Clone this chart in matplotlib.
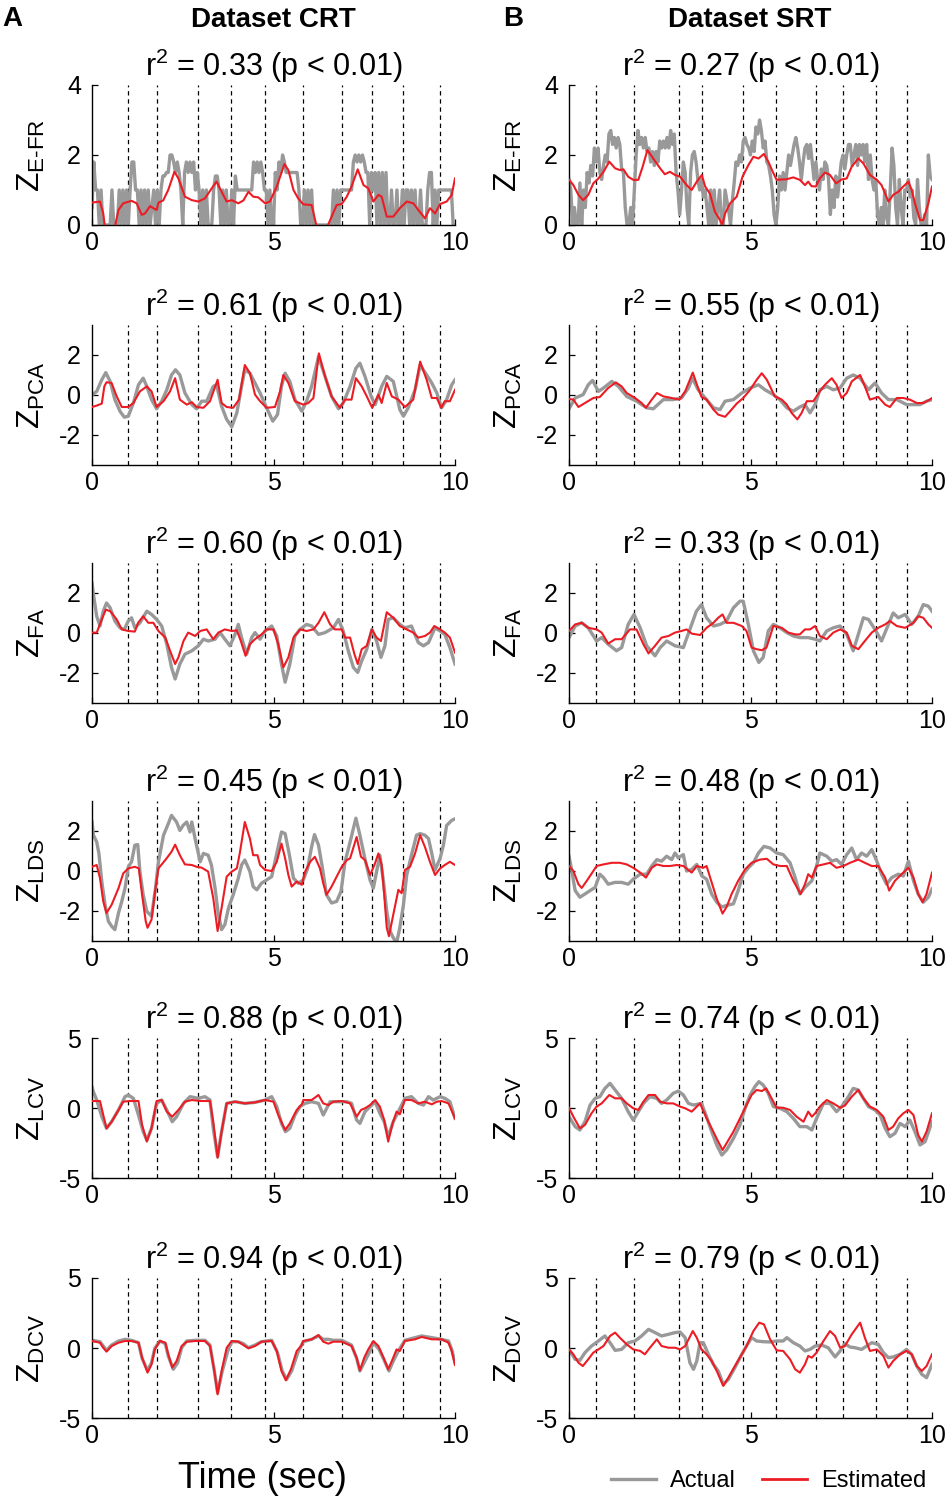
import numpy as np
import matplotlib
matplotlib.use("Agg")
import matplotlib.pyplot as plt
from matplotlib.lines import Line2D

plt.rcParams["font.family"] = ["Liberation Sans", "DejaVu Sans"]
plt.rcParams["mathtext.fontset"] = "custom"
plt.rcParams["mathtext.rm"] = "Liberation Sans"
plt.rcParams["axes.unicode_minus"] = False

# ==============================
# DATA
# ==============================
CRT_EVENTS = [0.98, 1.78, 2.93, 3.82, 4.77, 5.82, 6.88, 7.72, 8.58, 9.59]
SRT_EVENTS = [0.74, 1.79, 3.04, 3.66, 4.79, 5.70, 6.80, 7.56, 8.45, 9.30]

ROW_NAMES = ["E-FR", "PCA", "FA", "LDS", "LCV", "DCV"]
CRT_R2 = ["0.33", "0.61", "0.60", "0.45", "0.88", "0.94"]
SRT_R2 = ["0.27", "0.55", "0.33", "0.48", "0.74", "0.79"]

# firing-rate panels: actual sampled every 0.05 s
EFR_DT = 0.05
CRT_EFR_ACT = [
    0.5, 1.8, 1.0, 1.0, 0, 1.0, 0, 0, 0, 0, 0, 1.0, 0, 0, 0, 1.0, 0, 1.0, 0, 1.0,
    0, 1.0, 1.8, 1.8, 1.0, 1.0, 0, 1.0, 0, 1.0, 0, 1.0, 0, 0.5, 1.0, 0, 1.0, 0, 1.0, 1.4,
    1.4, 1.5, 1.5, 2.0, 2.0, 1.8, 1.5, 1.8, 1.5, 1.0, 0, 1.5, 1.8, 1.5, 1.8, 1.5, 1.8, 1.0, 1.5, 1.0,
    0, 1.0, 0, 1.0, 0, 0, 0, 1.0, 1.4, 1.4, 1.0, 0, 1.0, 0, 1.0, 0, 0, 1.0, 0, 1.4,
    1.0, 1.0, 1.0, 1.0, 1.0, 1.0, 1.0, 1.0, 1.0, 1.8, 1.5, 1.8, 1.5, 1.8, 1.5, 1.0, 1.0, 0, 1.0, 0,
    0, 1.5, 1.0, 1.8, 1.5, 2.0, 1.8, 1.5, 1.5, 1.5, 1.5, 1.5, 1.5, 1.5, 1.0, 0, 0, 1.0, 0, 1.0,
    0, 1.0, 0, 0, 0, 0, 0, 0, 0, 0, 0, 0, 0, 1.0, 0, 1.0, 0, 1.0, 1.0, 1.0,
    1.0, 1.0, 1.0, 1.0, 1.8, 2.0, 1.8, 2.0, 1.8, 2.0, 1.8, 1.5, 1.5, 0, 1.5, 1.0, 1.5, 0, 1.5, 0,
    1.5, 0, 1.5, 0, 0, 1.0, 0, 0, 1.0, 0, 0, 1.0, 0, 1.0, 1.0, 0, 1.0, 0, 1.0, 0,
    0, 1.0, 0, 0, 0, 1.0, 1.5, 1.5, 0, 1.0, 0, 1.0, 1.0, 1.0, 1.0, 1.0, 1.0, 1.0, 1.0, 0,
    0,
]
SRT_EFR_ACT = [
    1.3, 1.0, 0.0, 0.5, 0, 0, 1.2, 0, 1.0, 0.5, 1.5, 1.2, 1.7, 1.4, 2.2, 1.8, 2.2, 1.5, 1.3, 1.7,
    2.0, 1.8, 2.6, 2.7, 2.3, 2.5, 2.2, 2.5, 2.3, 1.6, 1.5, 0.5, 0, 0, 0.5, 0, 1.0, 2.0, 2.7, 2.3,
    2.5, 2.2, 2.5, 2.1, 2.2, 1.8, 2.1, 1.7, 2.1, 1.8, 2.4, 2.2, 2.4, 2.2, 2.5, 2.2, 2.7, 2.3, 2.6, 1.5,
    1.0, 0.3, 1.0, 1.8, 1.5, 0.5, 0, 1.5, 2.0, 2.1, 1.8, 1.3, 1.0, 1.3, 0.8, 1.0, 0.5, 0, 1.0, 0,
    1.0, 0, 0.5, 1.0, 0, 0, 1.0, 0.7, 0.4, 0, 0.7, 1.2, 1.8, 1.7, 2.0, 1.8, 2.4, 2.5, 2.3, 2.2,
    2.0, 2.4, 2.1, 2.8, 2.6, 3.0, 2.7, 2.2, 2.4, 1.8, 1.7, 1.4, 1.0, 0.3, 0, 0.5, 1.4, 1.0, 1.5, 1.0,
    1.5, 2.0, 1.7, 2.0, 2.3, 2.5, 2.2, 1.8, 1.3, 1.8, 2.2, 2.3, 1.9, 2.3, 1.8, 1.3, 1.8, 1.3, 1.0, 1.6,
    1.3, 1.8, 1.7, 1.3, 0.3, 1.0, 0.5, 1.4, 0.8, 1.3, 1.8, 2.0, 1.6, 2.0, 2.3, 2.3, 1.7, 2.0, 2.3, 1.7,
    2.3, 2.0, 2.3, 1.8, 2.3, 1.3, 2.0, 1.3, 1.0, 1.3, 0.3, 0, 0.5, 0, 1.0, 0.2, 0, 1.0, 2.2, 1.7,
    0.5, 0, 1.3, 0.5, 0, 1.0, 1.0, 1.3, 0.8, 1.0, 0.2, 0, 1.3, 0.5, 0, 0, 0.3, 0, 2.0, 1.4,
    1.3,
]

# (time s, value) pairs
CRT_EFR_EST = [(0, 0.64), (0.22, 0.67), (0.31, 0.33), (0.36, -0.1), (0.63, -0.05), (0.73, 0.43), (0.86, 0.62),
               (1.09, 0.69), (1.23, 0.62), (1.37, 0.29), (1.46, 0.33), (1.6, 0.54), (1.69, 0.48), (1.78, 0.43),
               (1.83, 0.64), (1.96, 0.70), (2.1, 1.0), (2.27, 1.52), (2.38, 1.33), (2.56, 0.81), (2.75, 0.71),
               (2.93, 0.67), (3.11, 0.76), (3.3, 1.05), (3.43, 1.24), (3.57, 0.95), (3.71, 0.67), (3.85, 0.71),
               (4.03, 0.62), (4.17, 0.70), (4.31, 0.95), (4.44, 0.81), (4.58, 0.79), (4.77, 0.62), (4.9, 0.67),
               (5.09, 1.1), (5.3, 1.74), (5.41, 1.57), (5.55, 1.0), (5.68, 0.76), (5.82, 0.59), (6.05, 0.57),
               (6.19, -0.05), (6.42, -0.2), (6.56, 0.14), (6.74, 0.57), (6.88, 0.6), (7.02, 0.81), (7.15, 1.1),
               (7.32, 1.59), (7.48, 1.14), (7.61, 1.05), (7.75, 0.67), (7.89, 0.86), (7.98, 0.81), (8.12, 0.24),
               (8.3, 0.24), (8.48, 0.48), (8.67, 0.67), (8.85, 0.62), (8.99, 0.43), (9.17, 0.19), (9.31, 0.48),
               (9.45, 0.33), (9.59, 0.6), (9.77, 0.67), (9.91, 0.86), (10, 1.33)]
SRT_EFR_EST = [(0, 1.3), (0.12, 1.14), (0.26, 0.86), (0.39, 0.71), (0.53, 0.86), (0.67, 1.19), (0.81, 1.33),
               (0.95, 1.52), (1.11, 1.81), (1.27, 1.62), (1.4, 1.57), (1.5, 1.59), (1.63, 1.38), (1.77, 1.29),
               (1.91, 1.29), (2.03, 1.67), (2.16, 2.14), (2.32, 1.9), (2.51, 1.62), (2.64, 1.45), (2.78, 1.52),
               (2.92, 1.43), (3.06, 1.38), (3.24, 1.14), (3.38, 1.0), (3.52, 1.24), (3.66, 1.43), (3.75, 1.1),
               (3.88, 0.9), (4.02, 0.38), (4.16, 0.14), (4.22, 0.0), (4.3, 0.33), (4.44, 0.62), (4.62, 0.81),
               (4.78, 1.38), (4.94, 1.71), (5.08, 1.95), (5.22, 1.9), (5.37, 2.03), (5.49, 1.81), (5.63, 1.48),
               (5.72, 1.29), (6.0, 1.31), (6.18, 1.36), (6.36, 1.29), (6.5, 1.14), (6.59, 1.24), (6.68, 1.11),
               (6.8, 1.1), (6.91, 1.33), (7.05, 1.5), (7.19, 1.43), (7.36, 1.19), (7.51, 1.3), (7.65, 1.33),
               (7.79, 1.67), (7.97, 1.9), (8.11, 1.76), (8.29, 1.43), (8.48, 1.29), (8.61, 1.14), (8.8, 0.67),
               (8.93, 0.86), (9.07, 0.95), (9.21, 1.1), (9.35, 1.24), (9.44, 1.0), (9.53, 0.62), (9.67, 0.14),
               (9.76, 0.14), (9.9, 0.62), (10, 1.1)]

CRT_PCA_ACT = [(0, 0.0), (0.13, 0.18), (0.27, 0.76), (0.38, 1.12), (0.5, 0.68), (0.63, -0.23), (0.77, -0.81),
               (0.89, -1.11), (1.0, -1.06), (1.14, -0.4), (1.28, 0.51), (1.41, 0.84), (1.51, 0.43), (1.64, -0.23),
               (1.78, -0.69), (1.92, -0.31), (2.06, 0.26), (2.19, 1.0), (2.3, 1.26), (2.42, 1.0), (2.56, 0.1),
               (2.75, -0.48), (2.88, -0.69), (3.02, -0.31), (3.16, -0.31), (3.34, 0.43), (3.43, 0.51), (3.57, -0.56),
               (3.71, -1.22), (3.85, -1.59), (3.99, -0.89), (4.12, 0.43), (4.21, 1.26), (4.35, 1.09), (4.49, 0.6),
               (4.63, 0.1), (4.81, -0.64), (4.98, -1.31), (5.11, -0.98), (5.22, 0.43), (5.32, 1.09), (5.45, 0.68),
               (5.59, -0.23), (5.78, -0.81), (5.91, -0.31), (6.05, 0.43), (6.24, 1.92), (6.42, 0.93), (6.6, -0.07),
               (6.79, -0.69), (6.92, -0.4), (7.11, 0.43), (7.27, 1.34), (7.38, 1.59), (7.52, 0.93), (7.69, -0.07),
               (7.8, -0.48), (7.98, 0.43), (8.12, 0.93), (8.3, 0.68), (8.48, -0.73), (8.58, -1.06), (8.71, -0.64),
               (8.9, 0.26), (9.04, 1.5), (9.22, 1.0), (9.36, 0.6), (9.5, 0.1), (9.63, -0.64), (9.77, -0.23),
               (9.91, 0.51), (10, 0.76)]
CRT_PCA_EST = [(0, -0.6), (0.13, -0.53), (0.27, -0.43), (0.34, 0.43), (0.4, 0.64), (0.54, 0.6), (0.68, -0.07),
               (0.82, -0.6), (1.0, -0.6), (1.14, -0.4), (1.32, 0.18), (1.51, 0.43), (1.64, 0.18), (1.78, -0.6),
               (1.97, -0.31), (2.15, 0.18), (2.29, 0.84), (2.42, -0.23), (2.61, -0.48), (2.75, -0.36), (2.88, -0.6),
               (3.07, -0.64), (3.25, -0.31), (3.46, 0.76), (3.57, -0.4), (3.71, -0.6), (3.89, -0.64), (4.05, -0.23),
               (4.21, 1.5), (4.35, 1.09), (4.49, 0.02), (4.63, -0.31), (4.81, -0.64), (5.04, -0.6), (5.18, 0.18),
               (5.27, 1.0), (5.41, 0.6), (5.59, -0.31), (5.82, -0.48), (5.96, -0.4), (6.1, -0.15), (6.25, 2.08),
               (6.42, 0.93), (6.6, -0.07), (6.83, -0.64), (6.97, -0.23), (7.15, -0.23), (7.27, 0.84), (7.43, 0.43),
               (7.57, -0.07), (7.72, -0.64), (7.89, 0.02), (7.98, -0.4), (8.12, 0.6), (8.26, -0.07), (8.44, -0.23),
               (8.62, -0.6), (8.85, -0.23), (9.04, 1.67), (9.22, 0.76), (9.36, -0.15), (9.5, -0.15), (9.62, -0.64),
               (9.72, -0.31), (9.86, -0.31), (10, 0.26)]
SRT_PCA_ACT = [(0, -0.69), (0.17, -0.15), (0.39, 0.02), (0.53, 0.51), (0.65, 0.73), (0.81, 0.18), (0.95, 0.35),
               (1.18, 0.68), (1.36, 0.43), (1.59, -0.07), (1.86, -0.31), (2.14, -0.64), (2.32, -0.69), (2.6, -0.23),
               (2.87, -0.23), (3.1, -0.15), (3.29, 0.35), (3.4, 0.84), (3.56, 0.26), (3.79, -0.23), (3.98, -0.64),
               (4.16, -0.73), (4.3, -0.31), (4.53, -0.23), (4.76, 0.1), (4.99, 0.35), (5.22, 0.51), (5.4, 0.26),
               (5.63, 0.02), (5.81, -0.23), (6.0, -0.64), (6.18, -0.81), (6.36, -0.6), (6.5, -0.48), (6.64, -0.89),
               (6.78, -0.48), (6.91, 0.26), (7.1, 0.43), (7.28, 0.26), (7.47, 0.35), (7.65, 0.84), (7.83, 1.0),
               (8.02, 0.84), (8.25, 0.26), (8.43, 0.6), (8.61, 0.1), (8.8, -0.23), (9.03, -0.23), (9.3, -0.48),
               (9.49, -0.48), (9.67, -0.48), (9.85, -0.31), (10, -0.23)]
SRT_PCA_EST = [(0, -0.2), (0.12, -0.23), (0.26, -0.6), (0.44, -0.4), (0.67, -0.15), (0.85, -0.1), (1.08, 0.35),
               (1.29, 0.63), (1.45, 0.43), (1.59, 0.1), (1.82, -0.15), (2.0, -0.4), (2.12, -0.64), (2.28, -0.23),
               (2.42, 0.1), (2.6, -0.07), (2.83, -0.15), (3.04, -0.23), (3.2, 0.18), (3.41, 1.12), (3.54, 0.43),
               (3.65, -0.1), (3.79, -0.23), (3.98, -0.73), (4.11, -0.98), (4.3, -1.09), (4.44, -0.81), (4.62, -0.43),
               (4.8, -0.15), (4.99, 0.26), (5.17, 0.76), (5.31, 1.09), (5.45, 0.76), (5.67, -0.07), (5.86, -0.23),
               (6.0, -0.48), (6.13, -0.89), (6.29, -1.22), (6.41, -0.89), (6.55, -0.31), (6.73, -0.31), (6.91, 0.18),
               (7.05, 0.51), (7.24, 0.84), (7.37, 0.51), (7.51, -0.15), (7.65, 0.1), (7.79, 0.68), (8.02, 1.0),
               (8.15, 0.43), (8.29, -0.23), (8.52, -0.1), (8.71, -0.48), (8.84, -0.6), (9.03, -0.15), (9.21, -0.15),
               (9.39, -0.23), (9.58, -0.4), (9.76, -0.4), (9.94, -0.23), (10, -0.15)]

CRT_FA_ACT = [(0, 2.5), (0.04, 1.92), (0.13, 0.84), (0.22, 0.35), (0.31, 1.09), (0.4, 1.5), (0.5, 1.26), (0.63, 0.6),
              (0.77, 0.26), (0.89, 0.18), (1.0, 0.6), (1.09, 0.76), (1.18, 0.26), (1.32, 0.51), (1.51, 1.09),
              (1.64, 0.93), (1.78, 0.68), (1.92, 0.35), (2.06, -0.56), (2.19, -1.72), (2.29, -2.3), (2.42, -1.55),
              (2.56, -1.06), (2.75, -0.89), (2.93, -0.64), (3.07, -0.31), (3.2, -0.4), (3.39, -0.31), (3.53, 0.02),
              (3.66, -0.31), (3.8, -0.64), (3.94, -0.07), (4.03, 0.43), (4.12, -0.23), (4.26, -1.06), (4.4, -0.23),
              (4.49, 0.02), (4.63, -0.31), (4.77, 0.1), (4.95, 0.35), (5.09, -0.15), (5.22, -1.55), (5.32, -2.46),
              (5.45, -1.55), (5.59, -0.15), (5.73, 0.18), (5.91, 0.43), (6.05, 0.35), (6.24, -0.07), (6.42, 0.02),
              (6.65, 0.26), (6.79, 0.68), (6.92, 0.1), (7.06, -0.89), (7.2, -1.72), (7.32, -1.97), (7.43, -1.39),
              (7.57, -0.81), (7.71, 0.18), (7.84, -0.4), (7.96, -1.22), (8.07, -0.64), (8.16, 0.68), (8.3, 0.76),
              (8.48, 0.43), (8.62, 0.26), (8.8, 0.35), (8.99, -0.48), (9.13, -0.64), (9.27, -0.48), (9.45, 0.26),
              (9.59, 0.1), (9.72, -0.07), (9.86, -0.73), (10, -1.55)]
CRT_FA_EST = [(0, 0.02), (0.13, 0.02), (0.27, 0.68), (0.38, 1.17), (0.5, 1.09), (0.68, 0.68), (0.82, 0.18), (1.0, 0.1),
              (1.18, 0.07), (1.27, 0.51), (1.41, 0.84), (1.55, 0.51), (1.69, 0.51), (1.83, 0.1), (2.02, -0.23),
              (2.15, -0.89), (2.29, -1.55), (2.38, -1.22), (2.52, -0.4), (2.65, 0.02), (2.84, -0.15), (2.98, 0.1),
              (3.16, 0.18), (3.34, -0.31), (3.48, 0.02), (3.66, 0.18), (3.85, 0.1), (3.99, 0.13), (4.1, -0.4),
              (4.23, -1.14), (4.35, -0.56), (4.49, -0.31), (4.67, -0.07), (4.81, 0.18), (5.0, 0.18), (5.13, -0.56),
              (5.27, -1.72), (5.41, -1.22), (5.55, -0.23), (5.73, 0.18), (5.91, 0.1), (6.1, 0.18), (6.24, 0.51),
              (6.4, 1.04), (6.56, 0.43), (6.69, 0.18), (6.88, 0.18), (6.97, -0.23), (7.11, -0.23), (7.23, -1.06),
              (7.32, -1.55), (7.43, -0.81), (7.57, -0.64), (7.71, 0.18), (7.84, -0.23), (7.96, -0.4), (8.12, 1.04),
              (8.3, 0.76), (8.48, 0.35), (8.67, 0.18), (8.85, 0.02), (8.99, -0.23), (9.17, -0.15), (9.31, 0.02),
              (9.43, 0.35), (9.59, 0.18), (9.72, 0.02), (9.86, -0.23), (10, -0.98)]
SRT_FA_ACT = [(0, -0.23), (0.17, 0.35), (0.35, 0.51), (0.53, 0.26), (0.76, -0.4), (0.9, -0.23), (1.08, -0.56),
              (1.31, -0.89), (1.45, -0.73), (1.63, 0.43), (1.79, 0.93), (1.96, 0.26), (2.14, -0.64), (2.37, -1.14),
              (2.51, -0.73), (2.69, -0.4), (2.92, -0.64), (3.15, -0.73), (3.33, 0.18), (3.51, 1.09), (3.65, 1.42),
              (3.79, 0.76), (3.98, 0.35), (4.16, 0.43), (4.34, 0.6), (4.53, 1.26), (4.71, 1.59), (4.8, 1.59),
              (4.94, 0.43), (5.08, -0.89), (5.23, -1.47), (5.35, -1.22), (5.49, 0.1), (5.63, 0.43), (5.81, 0.26),
              (6.0, 0.02), (6.18, -0.15), (6.36, -0.23), (6.59, -0.23), (6.78, -0.31), (6.91, -0.4), (7.1, 0.1),
              (7.28, 0.26), (7.47, 0.35), (7.65, -0.07), (7.83, -0.89), (7.97, -0.07), (8.11, 0.76), (8.25, 0.68),
              (8.43, 0.18), (8.61, -0.4), (8.8, 0.43), (8.93, 1.0), (9.07, 0.76), (9.26, 0.93), (9.44, 0.43),
              (9.62, 0.84), (9.76, 1.42), (9.9, 1.34), (10, 1.09)]
SRT_FA_EST = [(0, 0.1), (0.17, 0.43), (0.35, 0.51), (0.53, 0.26), (0.76, 0.18), (0.9, 0.02), (1.08, -0.53),
              (1.27, -0.31), (1.45, -0.31), (1.68, 0.18), (1.86, 0.18), (2.05, -0.56), (2.19, -1.02), (2.37, -0.64),
              (2.55, -0.23), (2.74, -0.15), (2.92, 0.02), (3.1, 0.1), (3.24, 0.18), (3.38, -0.03), (3.61, -0.1),
              (3.79, 0.26), (3.98, 0.51), (4.11, 0.76), (4.23, 0.93), (4.34, 0.51), (4.53, 0.51), (4.76, 0.35),
              (4.89, 0.1), (5.03, -0.73), (5.17, -0.81), (5.31, -0.86), (5.44, -0.73), (5.63, 0.35), (5.86, 0.26),
              (6.04, 0.02), (6.23, -0.07), (6.36, -0.07), (6.5, 0.18), (6.64, 0.18), (6.78, 0.35), (6.91, -0.15),
              (7.1, -0.31), (7.28, 0.02), (7.47, 0.18), (7.65, 0.02), (7.79, -0.64), (7.97, -0.81), (8.15, -0.4),
              (8.34, 0.02), (8.52, 0.26), (8.71, 0.43), (8.84, 0.6), (9.03, 0.35), (9.26, 0.26), (9.49, 0.51),
              (9.62, 0.84), (9.76, 0.76), (9.9, 0.43), (10, 0.26)]

CRT_LDS_ACT = [(0, 2.45), (0.04, 1.79), (0.13, 1.45), (0.19, 0.88), (0.27, -0.53), (0.36, -1.69), (0.45, -2.51),
               (0.54, -2.76), (0.63, -2.93), (0.73, -2.1), (0.82, -1.52), (0.91, -0.86), (1.0, 0.21), (1.09, 0.46),
               (1.18, 1.29), (1.26, 1.32), (1.32, -0.03), (1.41, -1.19), (1.51, -2.02), (1.64, -2.26), (1.75, -0.86),
               (1.83, 0.46), (1.97, 1.79), (2.1, 2.36), (2.19, 2.78), (2.33, 2.45), (2.42, 2.03), (2.51, 2.28),
               (2.61, 2.45), (2.7, 1.95), (2.75, 2.45), (2.84, 1.62), (2.98, 0.46), (3.07, 0.88), (3.2, 0.79),
               (3.29, 0.3), (3.39, -0.86), (3.48, -2.18), (3.57, -2.93), (3.66, -2.68), (3.76, -1.85), (3.89, -1.19),
               (4.03, -0.36), (4.12, 0.3), (4.21, 0.55), (4.35, -0.03), (4.44, -0.78), (4.54, -0.94), (4.67, -0.61),
               (4.81, -0.45), (4.95, -0.28), (5.09, 0.88), (5.22, 1.95), (5.32, 1.87), (5.43, 0.88), (5.55, -0.36),
               (5.68, -0.61), (5.82, -0.45), (5.94, 0.13), (6.05, 1.21), (6.13, 1.82), (6.24, 1.29), (6.35, 0.13),
               (6.46, -1.19), (6.6, -1.6), (6.74, -1.52), (6.86, -1.02), (6.97, 0.46), (7.11, 1.45), (7.27, 2.64),
               (7.38, 1.79), (7.52, 0.6), (7.66, -0.45), (7.75, -0.86), (7.84, -0.03), (7.93, 0.79), (8.03, -0.53),
               (8.12, -2.02), (8.21, -3.0), (8.3, -3.34), (8.39, -3.6), (8.48, -2.84), (8.58, -1.69), (8.67, -0.2),
               (8.8, 0.79), (8.94, 1.79), (9.04, 1.87), (9.17, 1.79), (9.27, 1.62), (9.36, 0.88), (9.45, 0.05),
               (9.59, 0.63), (9.68, 1.29), (9.77, 2.28), (9.91, 2.53), (10, 2.61)]
CRT_LDS_EST = [(0, 0.21), (0.13, 0.3), (0.22, -0.36), (0.31, -1.52), (0.4, -2.1), (0.54, -1.69), (0.73, -0.86),
               (0.86, -0.12), (1.0, 0.13), (1.18, 0.21), (1.29, 0.13), (1.38, -1.19), (1.48, -2.51), (1.53, -2.84),
               (1.64, -2.43), (1.75, -0.86), (1.83, 0.13), (2.02, 0.55), (2.19, 0.96), (2.29, 1.32), (2.42, 0.79),
               (2.56, 0.33), (2.75, 0.3), (2.88, 0.21), (3.02, 0.17), (3.2, -0.03), (3.34, -1.36), (3.46, -3.0),
               (3.57, -1.85), (3.71, -0.28), (3.85, -0.03), (3.99, 0.13), (4.07, 0.88), (4.21, 2.45), (4.35, 1.62),
               (4.44, 0.79), (4.56, 0.79), (4.63, 0.3), (4.77, 0.05), (4.95, 0.0), (5.09, 0.46), (5.22, 1.37),
               (5.32, 0.63), (5.41, -0.2), (5.5, -0.78), (5.64, -0.53), (5.78, -0.69), (5.87, -0.03), (6.01, 0.46),
               (6.14, 0.71), (6.28, 0.13), (6.37, -0.61), (6.46, -1.19), (6.6, -0.78), (6.74, -0.28), (6.88, 0.21),
               (7.02, 0.55), (7.11, 0.63), (7.29, 1.7), (7.41, 0.71), (7.52, 0.55), (7.66, -0.2), (7.78, 0.3),
               (7.89, 0.88), (7.98, 0.3), (8.05, -1.19), (8.12, -2.84), (8.18, -3.26), (8.3, -2.18), (8.44, -0.94),
               (8.53, -1.11), (8.62, 0.05), (8.76, 0.21), (8.9, 0.88), (9.04, 1.79), (9.17, 1.21), (9.31, 0.46),
               (9.45, -0.2), (9.59, 0.13), (9.72, 0.3), (9.86, 0.46), (10, 0.3)]
SRT_LDS_ACT = [(0, 0.74), (0.07, 0.08), (0.17, -0.98), (0.3, -1.31), (0.44, -1.15), (0.58, -0.98), (0.72, -0.82),
               (0.85, -0.16), (0.95, -0.33), (1.08, -0.66), (1.27, -0.57), (1.45, -0.57), (1.63, -0.66), (1.77, -0.41),
               (1.96, -0.16), (2.14, -0.16), (2.28, 0.25), (2.42, 0.57), (2.55, 0.49), (2.69, 0.74), (2.83, 0.57),
               (2.92, 0.9), (3.01, 0.66), (3.15, 0.82), (3.24, 0.0), (3.38, 0.08), (3.52, 0.33), (3.66, -0.25),
               (3.79, -0.41), (3.93, -1.15), (4.07, -1.56), (4.21, -1.8), (4.34, -1.72), (4.53, -1.64), (4.66, -0.98),
               (4.8, -0.16), (4.94, 0.16), (5.08, 0.41), (5.22, 0.9), (5.37, 1.23), (5.54, 1.15), (5.72, 0.9),
               (5.9, 0.82), (6.09, 0.41), (6.23, -0.33), (6.36, -1.15), (6.5, -0.82), (6.69, -0.49), (6.82, 0.25),
               (6.91, 0.9), (7.1, 0.74), (7.24, 0.49), (7.37, 0.57), (7.51, 0.33), (7.65, 0.82), (7.79, 1.15),
               (7.92, 0.57), (8.06, 0.9), (8.2, 0.74), (8.34, 1.07), (8.48, 0.49), (8.61, -0.16), (8.75, -0.66),
               (8.89, -0.33), (9.07, -0.16), (9.21, -0.25), (9.35, 0.49), (9.49, -0.49), (9.62, -1.15), (9.76, -1.56),
               (9.9, -1.31), (10, -0.9)]
SRT_LDS_EST = [(0, 0.25), (0.12, 0.0), (0.26, -0.66), (0.35, -0.85), (0.49, -0.49), (0.67, 0.0), (0.76, 0.25),
               (0.95, 0.33), (1.18, 0.41), (1.4, 0.41), (1.59, 0.33), (1.77, 0.16), (1.96, -0.08), (2.12, -0.33),
               (2.28, 0.16), (2.42, 0.33), (2.6, 0.25), (2.78, 0.25), (2.97, 0.3), (3.15, 0.25), (3.38, -0.08),
               (3.52, 0.25), (3.7, 0.16), (3.79, 0.25), (3.93, -0.57), (4.07, -1.39), (4.23, -2.13), (4.34, -1.8),
               (4.48, -1.15), (4.66, -0.49), (4.85, 0.08), (5.03, 0.41), (5.26, 0.57), (5.45, 0.61), (5.63, 0.33),
               (5.81, 0.25), (6.0, 0.25), (6.18, -0.49), (6.38, -1.15), (6.5, -0.66), (6.59, -0.16), (6.69, -0.33),
               (6.82, 0.25), (7.01, 0.33), (7.19, 0.41), (7.37, 0.16), (7.56, 0.25), (7.74, 0.41), (7.97, 0.57),
               (8.15, 0.41), (8.34, 0.25), (8.52, 0.25), (8.71, -0.33), (8.82, -0.98), (8.98, -0.49), (9.16, -0.16),
               (9.35, 0.16), (9.49, -0.33), (9.62, -1.15), (9.74, -1.56), (9.85, -1.15), (10, -0.08)]

CRT_LCV_ACT = [(0, 1.5), (0.04, 1.14), (0.13, 0.57), (0.27, -0.62), (0.4, -1.45), (0.54, -0.98), (0.73, -0.14),
               (0.91, 0.81), (1.0, 0.93), (1.14, 0.69), (1.28, -0.5), (1.41, -1.69), (1.51, -2.29), (1.64, -1.45),
               (1.78, 0.33), (1.92, 0.57), (2.06, -0.14), (2.21, -0.98), (2.33, -0.62), (2.52, 0.33), (2.7, 0.81),
               (2.93, 0.69), (3.11, 0.81), (3.25, 0.57), (3.34, -1.45), (3.46, -3.48), (3.57, -1.69), (3.71, 0.33),
               (3.94, 0.45), (4.21, 0.33), (4.49, 0.4), (4.77, 0.57), (4.95, 0.81), (5.09, 0.1), (5.22, -1.1),
               (5.33, -1.69), (5.45, -1.45), (5.59, -0.5), (5.73, 0.1), (5.87, 0.33), (6.05, 0.45), (6.24, 0.33),
               (6.37, -0.5), (6.56, 0.45), (6.79, 0.45), (7.02, 0.45), (7.15, 0.33), (7.29, -0.86), (7.38, -1.1),
               (7.52, -0.26), (7.66, 0.1), (7.8, 0.45), (7.93, -0.38), (8.05, -0.98), (8.16, -2.05), (8.3, -0.98),
               (8.44, -0.26), (8.62, 0.69), (8.8, 0.81), (8.99, 0.33), (9.13, 0.21), (9.27, 0.81), (9.4, 0.57),
               (9.59, 0.81), (9.72, 0.69), (9.86, 0.45), (10, -0.74)]
CRT_LCV_EST = [(0, 0.5), (0.22, 0.5), (0.31, -0.5), (0.4, -1.45), (0.54, -0.98), (0.73, -0.14), (0.86, 0.45),
               (1.04, 0.5), (1.28, 0.5), (1.38, -1.21), (1.51, -2.4), (1.64, -1.45), (1.78, 0.5), (1.92, 0.57),
               (2.06, -0.26), (2.21, -0.62), (2.38, -0.14), (2.56, 0.45), (2.75, 0.57), (2.98, 0.5), (3.25, 0.5),
               (3.34, -0.98), (3.46, -3.55), (3.57, -1.69), (3.71, 0.33), (3.94, 0.45), (4.21, 0.33), (4.49, 0.4),
               (4.77, 0.57), (5.0, 0.45), (5.13, -0.5), (5.32, -1.57), (5.45, -1.1), (5.64, -0.14), (5.78, 0.26),
               (5.82, 0.57), (6.05, 0.57), (6.24, 0.93), (6.37, 0.33), (6.51, 0.21), (6.65, 0.45), (6.88, 0.5),
               (7.11, 0.33), (7.29, -0.62), (7.41, -0.14), (7.52, -0.02), (7.66, 0.21), (7.8, 0.57), (7.93, 0.1),
               (8.05, -0.86), (8.16, -2.4), (8.28, -1.1), (8.39, -0.26), (8.48, -0.45), (8.62, 0.57), (8.8, 0.57),
               (8.99, 0.33), (9.17, 0.45), (9.36, 0.26), (9.5, 0.45), (9.63, 0.5), (9.82, 0.33), (10, -0.74)]
SRT_LCV_ACT = [(0, -0.62), (0.17, -1.33), (0.3, -1.57), (0.44, -0.98), (0.58, 0.21), (0.72, 0.69), (0.85, 0.81),
               (0.99, 1.4), (1.13, 1.76), (1.27, 1.29), (1.45, 0.69), (1.63, -0.26), (1.77, -0.86), (1.91, -0.26),
               (2.05, 0.33), (2.23, 0.81), (2.42, 0.69), (2.55, 0.33), (2.69, 0.57), (2.87, 1.05), (3.01, 1.21),
               (3.15, 0.93), (3.29, 0.33), (3.43, 0.21), (3.65, 0.33), (3.79, -0.62), (3.93, -1.69), (4.07, -2.64),
               (4.21, -3.36), (4.34, -3.0), (4.53, -2.17), (4.71, -1.21), (4.85, -0.02), (4.99, 0.93), (5.12, 1.52),
               (5.23, 1.88), (5.35, 1.64), (5.49, 1.05), (5.63, 0.1), (5.81, -0.02), (6.0, -0.26), (6.18, -0.74),
               (6.36, -1.33), (6.55, -1.33), (6.69, -1.57), (6.82, -0.74), (7.01, 0.33), (7.19, 0.33), (7.37, -0.26),
               (7.51, 0.1), (7.7, 0.81), (7.83, 1.4), (7.97, 1.29), (8.11, 0.69), (8.25, 0.1), (8.43, -0.14),
               (8.57, -0.5), (8.71, -1.45), (8.84, -2.05), (8.98, -1.81), (9.12, -1.1), (9.26, -1.33), (9.39, -0.86),
               (9.53, -1.69), (9.67, -2.64), (9.81, -2.4), (10, -0.98)]
SRT_LCV_EST = [(0, 0.02), (0.12, -0.62), (0.3, -1.45), (0.44, -1.21), (0.62, -0.38), (0.76, 0.1), (0.9, 0.33),
               (1.11, 0.93), (1.27, 0.69), (1.45, 0.69), (1.59, 0.33), (1.77, -0.02), (1.91, -0.14), (2.05, 0.45),
               (2.19, 0.93), (2.37, 0.93), (2.51, 0.45), (2.69, 0.33), (2.87, 0.33), (3.06, 0.1), (3.2, -0.02),
               (3.38, -0.26), (3.61, 0.33), (3.79, -0.74), (3.93, -1.45), (4.11, -2.4), (4.23, -3.0), (4.34, -2.52),
               (4.53, -1.69), (4.71, -0.74), (4.89, 0.21), (5.03, 0.93), (5.17, 1.29), (5.31, 1.21), (5.43, 1.4),
               (5.58, 0.69), (5.72, 0.02), (5.9, 0.02), (6.09, -0.14), (6.27, -0.62), (6.46, -0.98), (6.59, -0.26),
               (6.69, -0.62), (6.78, -0.38), (6.91, 0.1), (7.1, 0.57), (7.28, 0.33), (7.47, 0.02), (7.6, 0.17),
               (7.79, 0.81), (7.97, 1.29), (8.11, 0.69), (8.29, 0.1), (8.48, -0.14), (8.66, -0.62), (8.8, -1.57),
               (8.93, -1.33), (9.07, -0.74), (9.21, -0.38), (9.35, -0.14), (9.49, -0.5), (9.62, -1.93), (9.72, -2.4),
               (9.85, -1.69), (10, -0.38)]

CRT_DCV_ACT = [(0, 0.55), (0.22, 0.45), (0.31, 0.14), (0.4, -0.17), (0.54, 0.21), (0.73, 0.5), (0.91, 0.62),
               (1.09, 0.55), (1.28, 0.38), (1.38, -0.74), (1.53, -1.6), (1.64, -1.05), (1.73, -0.02), (1.87, 0.5),
               (2.02, 0.31), (2.1, -0.57), (2.24, -1.52), (2.36, -1.05), (2.47, 0.02), (2.61, 0.5), (2.84, 0.55),
               (3.11, 0.55), (3.25, 0.21), (3.37, -1.64), (3.46, -3.19), (3.59, -1.64), (3.74, -0.21), (3.85, 0.45),
               (4.03, 0.45), (4.17, 0.31), (4.31, 0.02), (4.49, 0.21), (4.67, 0.45), (4.95, 0.55), (5.11, -0.33),
               (5.24, -1.64), (5.36, -2.24), (5.5, -1.64), (5.67, -0.33), (5.82, 0.45), (6.05, 0.62), (6.24, 0.86),
               (6.37, 0.62), (6.51, 0.62), (6.65, 0.55), (6.88, 0.55), (7.15, 0.21), (7.29, -0.74), (7.38, -1.64),
               (7.52, -0.93), (7.66, -0.21), (7.75, 0.38), (7.91, -0.1), (8.05, -0.88), (8.18, -1.64), (8.3, -0.93),
               (8.44, -0.21), (8.62, 0.55), (8.9, 0.74), (9.08, 0.86), (9.36, 0.74), (9.63, 0.62), (9.82, 0.5),
               (9.91, -0.1), (10, -1.05)]
CRT_DCV_EST = [(0, 0.5), (0.22, 0.38), (0.31, 0.02), (0.4, -0.26), (0.54, 0.14), (0.73, 0.38), (0.91, 0.5),
               (1.09, 0.5), (1.28, 0.38), (1.38, -0.69), (1.53, -1.76), (1.64, -1.17), (1.73, -0.1), (1.87, 0.5),
               (2.02, 0.38), (2.1, -0.45), (2.21, -1.4), (2.33, -0.93), (2.47, 0.14), (2.61, 0.45), (2.84, 0.5),
               (3.11, 0.5), (3.25, 0.14), (3.37, -1.64), (3.46, -3.31), (3.57, -1.64), (3.71, 0.02), (3.85, 0.5),
               (4.03, 0.45), (4.17, 0.21), (4.31, -0.02), (4.49, 0.14), (4.67, 0.45), (4.95, 0.5), (5.09, -0.21),
               (5.22, -1.64), (5.34, -2.31), (5.48, -1.52), (5.64, -0.21), (5.76, 0.14), (5.82, 0.5), (6.05, 0.62),
               (6.24, 0.93), (6.37, 0.45), (6.51, 0.31), (6.65, 0.45), (6.88, 0.45), (7.15, 0.14), (7.29, -0.69),
               (7.38, -1.6), (7.5, -0.69), (7.61, -0.1), (7.75, 0.5), (7.89, 0.14), (8.03, -0.69), (8.16, -1.52),
               (8.26, -0.93), (8.39, -0.1), (8.48, -0.21), (8.62, 0.5), (8.9, 0.62), (9.08, 0.79), (9.36, 0.62),
               (9.63, 0.62), (9.82, 0.38), (9.91, -0.21), (10, -1.21)]
SRT_DCV_ACT = [(0, -0.1), (0.17, -0.81), (0.3, -0.88), (0.44, -0.33), (0.62, 0.14), (0.81, 0.5), (0.99, 0.86),
               (1.13, 0.38), (1.27, -0.17), (1.45, -0.1), (1.63, 0.38), (1.82, 0.5), (2.0, 0.86), (2.19, 1.33),
               (2.37, 1.1), (2.55, 0.86), (2.74, 0.98), (2.92, 1.1), (3.06, 1.14), (3.2, 0.74), (3.33, -1.05),
               (3.43, -1.52), (3.52, -0.93), (3.61, 0.38), (3.7, 0.38), (3.84, -0.45), (3.98, -1.17), (4.11, -1.64),
               (4.25, -2.6), (4.39, -2.24), (4.57, -1.4), (4.76, -0.45), (4.89, 0.14), (5.03, 0.74), (5.17, 0.5),
               (5.35, 0.45), (5.54, 0.43), (5.72, 0.5), (5.9, 0.5), (6.0, 0.74), (6.18, 0.38), (6.36, 0.14),
               (6.5, -0.21), (6.64, -0.1), (6.78, 0.14), (6.96, 0.21), (7.14, 0.02), (7.33, -0.64), (7.47, -0.21),
               (7.6, 0.31), (7.74, 0.07), (7.88, 0.02), (8.06, -0.1), (8.2, 0.14), (8.34, 0.38), (8.52, 0.26),
               (8.66, -0.33), (8.8, -0.69), (8.93, -0.64), (9.12, -0.45), (9.3, -0.1), (9.44, -0.45), (9.58, -1.29),
               (9.72, -1.88), (9.85, -2.12), (10, -1.17)]
SRT_DCV_EST = [(0, -0.1), (0.12, -0.45), (0.26, -1.05), (0.38, -1.29), (0.53, -0.81), (0.67, -0.33), (0.81, -0.1),
               (0.95, 0.14), (1.13, 0.86), (1.27, 1.1), (1.4, 0.74), (1.59, 0.26), (1.77, -0.1), (1.96, -0.21),
               (2.09, -0.45), (2.23, 0.02), (2.42, 0.62), (2.55, 0.14), (2.74, 0.02), (2.92, 0.02), (3.06, -0.1),
               (3.2, 0.14), (3.41, 1.21), (3.52, 0.74), (3.65, -0.1), (3.79, -0.45), (3.93, -0.93), (4.07, -1.64),
               (4.25, -2.71), (4.39, -2.12), (4.57, -1.29), (4.76, -0.45), (4.89, 0.14), (5.08, 1.21), (5.24, 1.81),
               (5.37, 1.69), (5.54, 0.62), (5.72, -0.17), (5.9, -0.21), (6.09, -0.81), (6.23, -1.52), (6.36, -1.76),
               (6.5, -1.17), (6.59, -0.57), (6.69, -0.69), (6.82, -0.33), (7.01, 0.5), (7.19, 1.21), (7.33, 0.86),
               (7.47, 0.02), (7.6, 0.14), (7.79, 0.98), (8.02, 1.81), (8.15, 0.74), (8.29, -0.21), (8.48, -0.1),
               (8.66, -0.57), (8.8, -1.4), (8.93, -0.93), (9.12, -0.45), (9.3, -0.21), (9.44, -0.45), (9.58, -1.29),
               (9.72, -1.64), (9.85, -1.29), (10, -0.45)]

# per row: y limits and ticks
ROW_YLIM = [(0, 4), (-3.5, 3.5), (-3.5, 3.5), (-3.5, 3.5), (-5, 5), (-5, 5)]
ROW_YTICKS = [[0, 2, 4], [-2, 0, 2], [-2, 0, 2], [-2, 0, 2], [-5, 0, 5], [-5, 0, 5]]


def as_xy(series):
    if isinstance(series[0], tuple):
        arr = np.array(series, dtype=float)
        return arr[:, 0], arr[:, 1]
    v = np.array(series, dtype=float)
    return np.arange(len(v)) * EFR_DT, v


CRT_ROWS = [(CRT_EFR_ACT, CRT_EFR_EST), (CRT_PCA_ACT, CRT_PCA_EST), (CRT_FA_ACT, CRT_FA_EST),
            (CRT_LDS_ACT, CRT_LDS_EST), (CRT_LCV_ACT, CRT_LCV_EST), (CRT_DCV_ACT, CRT_DCV_EST)]
SRT_ROWS = [(SRT_EFR_ACT, SRT_EFR_EST), (SRT_PCA_ACT, SRT_PCA_EST), (SRT_FA_ACT, SRT_FA_EST),
            (SRT_LDS_ACT, SRT_LDS_EST), (SRT_LCV_ACT, SRT_LCV_EST), (SRT_DCV_ACT, SRT_DCV_EST)]

GRAY = "#999999"
RED = "#ec1c24"

# ==============================
# LAYOUT (pixels)
# ==============================
W, H = 950, 1503
COL_X = [92, 569]
AX_W = 363
ROW_TOP = [85, 325, 563, 801, 1038, 1278]
AX_H = 140

fig = plt.figure(figsize=(W / 100, H / 100), dpi=100)


def draw_panel(ax, act, est, events, ylim, yticks, r2, name):
    for e in events:
        ax.axvline(e, color="k", lw=0.9, ls=(0, (3.5, 3)), zorder=1)
    t, v = as_xy(act)
    ax.plot(t, v, color=GRAY, lw=2.4, zorder=2, solid_joinstyle="round")
    t, v = as_xy(est)
    ax.plot(t, v, color=RED, lw=1.5, zorder=3)
    ax.set_xlim(0, 10)
    ax.set_ylim(*ylim)
    ax.set_xticks([0, 5, 10])
    ax.set_yticks(yticks)
    ax.spines["top"].set_visible(False)
    ax.spines["right"].set_visible(False)
    for s in ("left", "bottom"):
        ax.spines[s].set_linewidth(1.0)
    ax.tick_params(direction="in", length=4, width=0.9, labelsize=18)
    ax.tick_params(axis="x", pad=4)
    ax.tick_params(axis="y", pad=8)
    ax.set_title(r"$\mathregular{r^2}$ = %s (p < 0.01)" % r2, fontsize=22, pad=2)
    ax.set_ylabel(r"$\mathregular{Z_{%s}}$" % name.replace("-", r"\text{-}"), fontsize=23)
    ax.yaxis.set_label_coords(-0.125, 0.5)


for col, (rows, events, r2s) in enumerate([(CRT_ROWS, CRT_EVENTS, CRT_R2),
                                           (SRT_ROWS, SRT_EVENTS, SRT_R2)]):
    for r in range(6):
        ax = fig.add_axes([COL_X[col] / W, 1 - (ROW_TOP[r] + AX_H) / H, AX_W / W, AX_H / H])
        act, est = rows[r]
        draw_panel(ax, act, est, events, ROW_YLIM[r], ROW_YTICKS[r], r2s[r], ROW_NAMES[r])

fig.text(12 / W, 1 - 19 / H, "A", fontsize=20, fontweight="bold", ha="center", va="center")
fig.text(513 / W, 1 - 19 / H, "B", fontsize=20, fontweight="bold", ha="center", va="center")
fig.text(273 / W, 1 - 20 / H, "Dataset CRT", fontsize=20, fontweight="bold", ha="center", va="center")
fig.text(750 / W, 1 - 20 / H, "Dataset SRT", fontsize=20, fontweight="bold", ha="center", va="center")
fig.text(262 / W, 1 - 1478 / H, "Time (sec)", fontsize=26, ha="center", va="center")

handles = [Line2D([], [], color=GRAY, lw=2.4), Line2D([], [], color=RED, lw=2.0)]
fig.legend(handles, ["Actual", "Estimated"], loc="center", bbox_to_anchor=(769 / W, 1 - 1481 / H),
           ncol=2, frameon=False, fontsize=17, handlelength=1.9, handletextpad=0.6, columnspacing=1.1)

fig.savefig("out.png", dpi=100)
